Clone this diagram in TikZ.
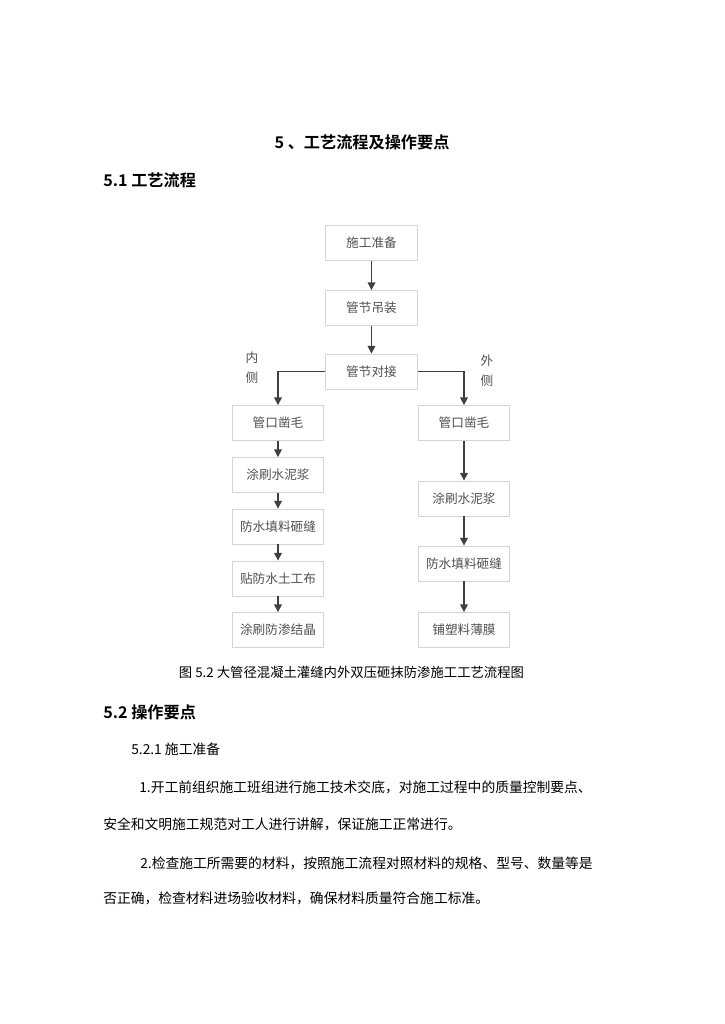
\documentclass[tikz,border=0pt]{standalone}
\usepackage{fontspec}
\setmainfont{Noto Sans CJK SC}[BoldFont={Noto Sans CJK SC Bold}]
\usetikzlibrary{arrows.meta,positioning}
\definecolor{boxline}{HTML}{D4D4D4}
\definecolor{arrline}{HTML}{404040}
\definecolor{boxtext}{HTML}{505050}
\tikzset{
  blk/.style={draw=boxline, rectangle, minimum height=0.875cm, minimum width=2.28cm, align=center, text=boxtext, font=\fontsize{9}{11}\selectfont, line width=0.6pt},
  arr/.style={-{Triangle[length=5.5pt, width=5.5pt]}, color=arrline, line width=1pt},
  side/.style={align=center, text=boxtext, font=\fontsize{9}{14.5}\selectfont},
  head/.style={font=\fontsize{11.5}{14}\selectfont\bfseries, anchor=west},
  body/.style={font=\fontsize{9.8}{12}\selectfont, anchor=west, inner sep=0pt},
}
\begin{document}
\begin{tikzpicture}[x=0.025cm, y=-0.025cm]
\useasboundingbox (0,0) rectangle (724,1024);

% Headings
\node[font=\fontsize{11.5}{14}\selectfont\bfseries] (title) at (362,142) {5 、工艺流程及操作要点};
\node[head, inner sep=0pt] (h51) at (103,180) {5.1 工艺流程};

% Main line
\node[blk] (prep) at (371.5,243) {施工准备};
\node[blk] (lift) at (371.5,308) {管节吊装};
\node[blk] (join) at (371.5,371.5) {管节对接};
\draw[arr] (prep) -- (lift);
\draw[arr] (lift) -- (join);

% Inner side
\node[blk] (l1) at (278,423) {管口凿毛};
\node[blk] (l2) at (278,475) {涂刷水泥浆};
\node[blk] (l3) at (278,526.5) {防水填料砸缝};
\node[blk] (l4) at (278,578.5) {贴防水土工布};
\node[blk] (l5) at (278,630) {涂刷防渗结晶};
\draw[arr] (join.west) -| (l1.north);
\draw[arr] (l1) -- (l2);
\draw[arr] (l2) -- (l3);
\draw[arr] (l3) -- (l4);
\draw[arr] (l4) -- (l5);

% Outer side
\node[blk] (r1) at (464,423) {管口凿毛};
\node[blk] (r2) at (464,498.5) {涂刷水泥浆};
\node[blk] (r3) at (464,563.5) {防水填料砸缝};
\node[blk] (r4) at (464,630) {铺塑料薄膜};
\draw[arr] (join.east) -| (r1.north);
\draw[arr] (r1) -- (r2);
\draw[arr] (r2) -- (r3);
\draw[arr] (r3) -- (r4);

\node[side] (inner) at (252,367.5) {内\\侧};
\node[side] (outer) at (487,370.5) {外\\侧};

% Caption and text
\node[font=\fontsize{9.5}{12}\selectfont] (cap) at (351.5,672.5) {图 5.2 大管径混凝土灌缝内外双压砸抹防渗施工工艺流程图};
\node[head, inner sep=0pt] (h52) at (103,712) {5.2 操作要点};
\node[body] (h521) at (131,749) {5.2.1 施工准备};
\node[body] (p1a) at (139,787) {1.开工前组织施工班组进行施工技术交底，对施工过程中的质量控制要点、};
\node[body] (p1b) at (103,824) {安全和文明施工规范对工人进行讲解，保证施工正常进行。};
\node[body] (p2a) at (140,863) {2.检查施工所需要的材料，按照施工流程对照材料的规格、型号、数量等是};
\node[body] (p2b) at (103,898) {否正确，检查材料进场验收材料，确保材料质量符合施工标准。};

\end{tikzpicture}
\end{document}
